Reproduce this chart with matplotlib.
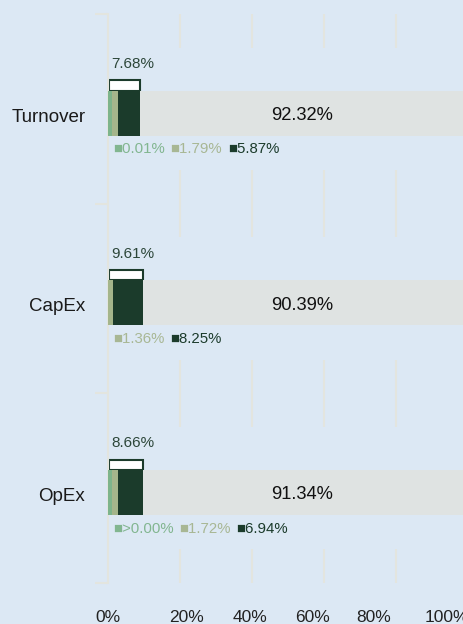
import matplotlib
matplotlib.use("Agg")
import matplotlib.pyplot as plt
from matplotlib.patches import Rectangle

# ---------------- data ----------------
categories = ["Turnover", "CapEx", "OpEx"]
seg_enabling = [0.01, 0.0, 0.001]        # light green segment
seg_transitional = [1.79, 1.36, 1.72]    # tan segment
seg_other = [5.87, 8.25, 6.94]           # dark green segment
aligned_total = [7.68, 9.61, 8.66]
not_aligned = [92.32, 90.39, 91.34]
seg_labels = [["0.01%", "1.79%", "5.87%"],
              [None, "1.36%", "8.25%"],
              [">0.00%", "1.72%", "6.94%"]]
grid_values = [20, 40, 60, 80]
xtick_labels = ["0%", "20%", "40%", "60%", "80%", "100%"]

# ---------------- style / layout ----------------
BG = "#dce8f4"
GRID = "#e3e5df"
C_LIGHT = "#7db48b"
C_TAN = "#a4b58b"
C_DARK = "#1b3b2b"
C_GRAY = "#dfe3e2"
T_LIGHT = "#82b690"
T_TAN = "#a8b794"
T_TOTAL = "#2c4639"
FONT = ["Liberation Sans", "DejaVu Sans"]
MIN_W = 1.1
BAR_OFF = 0.023
BAR_H = 0.237
BRACKET_H = 0.055
GRID_SEG = 0.177
xtick_pos = [0, 21.9, 39.4, 56.7, 73.9, 94.2]

plt.rcParams["font.family"] = FONT

W, H = 464, 624
fig = plt.figure(figsize=(W / 100, H / 100), dpi=100, facecolor=BG)
ax = fig.add_axes([108 / W, 1 - 583 / H, 360 / W, 569 / H])
ax.set_facecolor(BG)
ax.set_xlim(0, 100)
ax.set_ylim(len(categories) - 0.5, -0.5)

for s in ["top", "right", "bottom"]:
    ax.spines[s].set_visible(False)
ax.spines["left"].set_color(GRID)
ax.spines["left"].set_linewidth(1.5)

ax.set_yticks([i - 0.5 for i in range(len(categories) + 1)])
ax.set_yticklabels([])
ax.tick_params(axis="y", length=9.4, width=1.5, color=GRID, direction="out")

ax.set_xticks(xtick_pos)
ax.set_xticklabels(xtick_labels, fontsize=12.5, color="#222222")
ax.tick_params(axis="x", length=0, pad=19.5)

# partial gridlines
for i in range(len(categories)):
    ax.vlines(grid_values, i - 0.5, i - 0.5 + GRID_SEG, color=GRID, lw=1.5, zorder=0)
    ax.vlines(grid_values, i + 0.5 - GRID_SEG, i + 0.5, color=GRID, lw=1.5, zorder=0)

seg_colors = [C_LIGHT, C_TAN, C_DARK]
lab_colors = [T_LIGHT, T_TAN, C_DARK]

for i, cat in enumerate(categories):
    y = i + BAR_OFF
    vals = [seg_enabling[i], seg_transitional[i], seg_other[i]]
    left = 0.0
    for v, c in zip(vals, seg_colors):
        if v <= 0:
            continue
        w = max(v, MIN_W)
        ax.barh(y, w, left=left, height=BAR_H, color=c, zorder=3)
        left += w
    ax.barh(y, not_aligned[i], left=left, height=BAR_H, color=C_GRAY, zorder=2)

    top = y - BAR_H / 2
    bottom = y + BAR_H / 2
    # bracket above aligned part
    ax.add_patch(Rectangle((0.3, top - BRACKET_H), left - 0.3, BRACKET_H,
                           facecolor="white", edgecolor=C_DARK, lw=1.5, zorder=1,
                           clip_on=False))

    # total aligned label
    ax.annotate(f"{aligned_total[i]:.2f}%", xy=(0, top), xycoords="data",
                xytext=(2.3, 16.3), textcoords="offset points",
                ha="left", va="baseline", fontsize=11, color=T_TOTAL)

    # not aligned label
    ax.annotate(f"{not_aligned[i]:.2f}%", xy=(62.5, y), xycoords="data",
                xytext=(0, -5), textcoords="offset points",
                ha="right", va="baseline", fontsize=13.2, color="#111111")

    # category label
    ax.annotate(cat, xy=(0, y), xycoords=("axes fraction", "data"),
                xytext=(-16.3, -6.2), textcoords="offset points",
                ha="right", va="baseline", fontsize=13.5, color="#1a1a1a")

    # segment legend labels
    prev = None
    for lab, tc in zip(seg_labels[i], lab_colors):
        if lab is None:
            continue
        txt = "\u25a0" + lab
        if prev is None:
            prev = ax.annotate(txt, xy=(0, bottom), xycoords="data",
                               xytext=(3.4, -12.7), textcoords="offset points",
                               ha="left", va="baseline", fontsize=10.8, color=tc)
        else:
            prev = ax.annotate(txt, xy=(1, 0), xycoords=prev,
                               xytext=(4.2, 0), textcoords="offset points",
                               ha="left", va="bottom", fontsize=10.8, color=tc)

fig.savefig("out.png", dpi=100, facecolor=BG)
